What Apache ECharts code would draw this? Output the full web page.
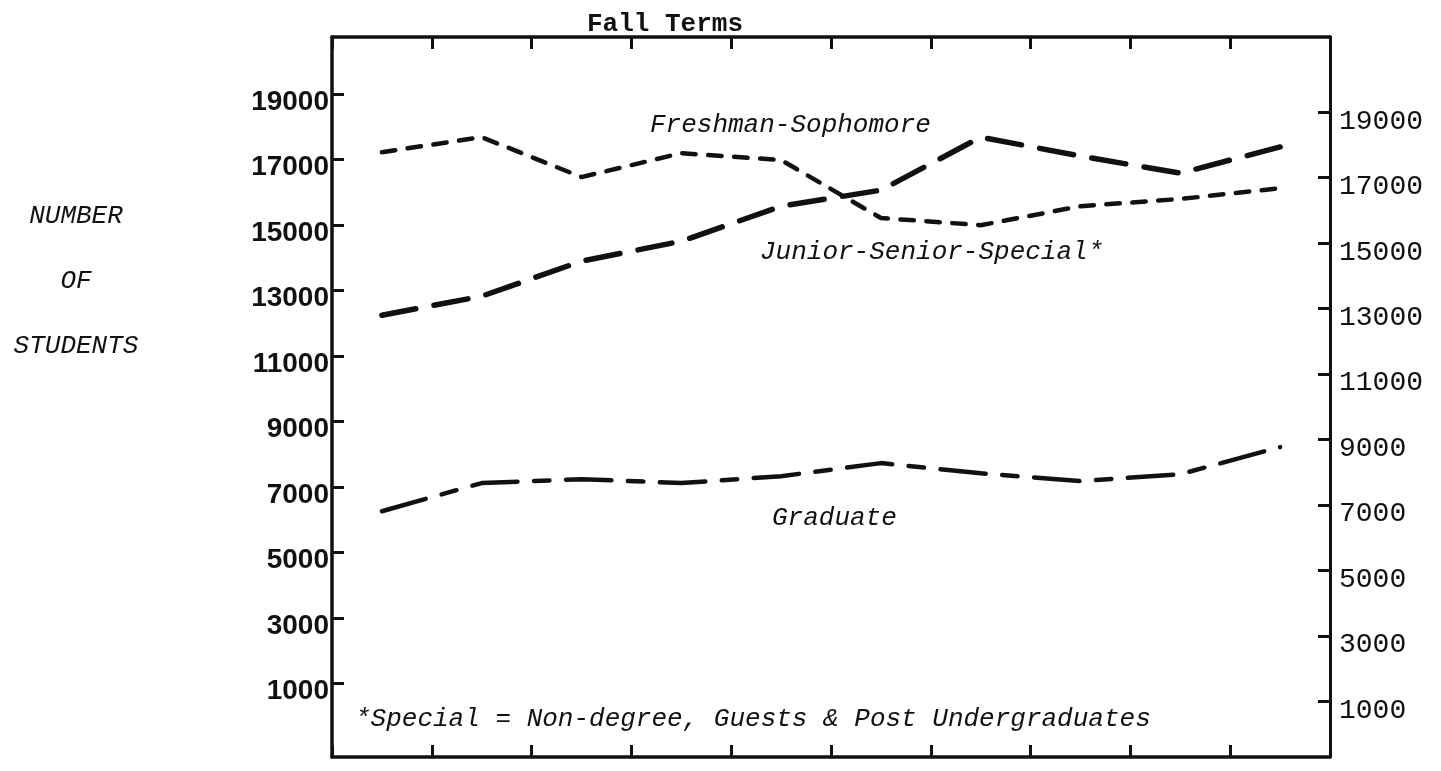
<!DOCTYPE html>
<html>
<head>
<meta charset="utf-8">
<script src="https://cdn.jsdelivr.net/npm/echarts@6/dist/echarts.min.js"></script>
<style>
    html, body { margin: 0; padding: 0; background: #fff; }
    #chart { width: 1441px; height: 771px; }
</style>
</head>
<body>
<div id="chart"></div>
<script>
// fall terms - the sheet does not print the years, so these stay hidden
const terms = ['Term 1', 'Term 2', 'Term 3', 'Term 4', 'Term 5', 'Term 6', 'Term 7', 'Term 8', 'Term 9', 'Term 10'];

// number of students
const freshmanSophomore = [17230, 17690, 16470, 17200, 16990, 15220, 15000, 15580, 15800, 16130];
const juniorSeniorSpecial = [12250, 12830, 13900, 14510, 15580, 16070, 17690, 17110, 16590, 17390];
const graduate = [6260, 7120, 7240, 7120, 7330, 7730, 7420, 7180, 7390, 8220];

// printed scale values (same on both sides)
const scaleValues = [1000, 3000, 5000, 7000, 9000, 11000, 13000, 15000, 17000, 19000];

const ink = '#111';
const typewriter = '"Liberation Mono", "DejaVu Sans Mono", monospace';
const italicType = 'italic 26px ' + typewriter;

const chart = echarts.init(document.getElementById('chart'));

const makeSerie = function (name, data, width, dash) {
    return {
        name: name,
        type: 'line',
        data: data,
        symbol: 'none',
        silent: true,
        lineStyle: {
            color: ink,
            width: width,
            type: dash,
            cap: 'round'
        }
    };
};

const frameAxis = function (position) {
    return {
        type: 'category',
        position: position,
        data: terms,
        boundaryGap: true,
        axisLine: { show: true, onZero: false, lineStyle: { color: ink, width: 3.5 } },
        axisTick: {
            show: true,
            inside: true,
            length: 12,
            interval: 0,
            alignWithLabel: false,
            lineStyle: { color: ink, width: 3 }
        },
        axisLabel: { show: false },
        splitLine: { show: false }
    };
};

const note = function (text, x, y, align) {
    return {
        type: 'text',
        x: x,
        y: y,
        silent: true,
        style: {
            text: text,
            font: italicType,
            fill: ink,
            align: align || 'left',
            verticalAlign: 'middle'
        }
    };
};

chart.setOption({
    animation: false,
    backgroundColor: '#fff',

    title: {
        text: 'Fall Terms',
        left: 582,
        top: 6,
        textStyle: {
            fontFamily: typewriter,
            fontWeight: 'bold',
            fontSize: 26,
            color: ink
        }
    },

    grid: {
        left: 332,
        right: 111,
        top: 37,
        bottom: 14,
        containLabel: false
    },

    xAxis: [frameAxis('bottom'), frameAxis('top')],

    yAxis: [{
        type: 'value',
        position: 'left',
        min: -1250,
        max: 20750,
        axisLine: { show: true, lineStyle: { color: ink, width: 3.5 } },
        axisTick: {
            show: true,
            inside: true,
            length: 12,
            customValues: scaleValues,
            lineStyle: { color: ink, width: 3 }
        },
        axisLabel: {
            customValues: scaleValues,
            formatter: function (v) { return String(v); },
            margin: 3,
            verticalAlign: 'top',
            lineHeight: 16,
            fontFamily: '"Liberation Sans", Arial, sans-serif',
            fontWeight: 'bold',
            fontSize: 28,
            color: ink
        },
        splitLine: { show: false }
    }, {
        type: 'value',
        position: 'right',
        // the scanned sheet sits a little crooked, so this side reads ~550 higher
        min: -700,
        max: 21300,
        axisLine: { show: true, lineStyle: { color: ink, width: 3 } },
        axisTick: {
            show: true,
            inside: true,
            length: 12,
            customValues: scaleValues,
            lineStyle: { color: ink, width: 3 }
        },
        axisLabel: {
            customValues: scaleValues,
            formatter: function (v) { return String(v); },
            margin: 9,
            verticalAlign: 'top',
            lineHeight: 18,
            fontFamily: typewriter,
            fontSize: 28,
            color: ink
        },
        splitLine: { show: false }
    }],

    graphic: [
        note('NUMBER', 76, 216, 'center'),
        note('OF', 76, 281, 'center'),
        note('STUDENTS', 76, 346, 'center'),
        note('Freshman-Sophomore', 650, 125),
        note('Junior-Senior-Special*', 760, 252),
        note('Graduate', 772, 518),
        note('*Special = Non-degree, Guests & Post Undergraduates', 355, 719)
    ],

    series: [
        makeSerie('Freshman-Sophomore', freshmanSophomore, 4.5, [13.5, 12.5]),
        makeSerie('Junior-Senior-Special*', juniorSeniorSpecial, 5.5, [34.5, 18.5]),
        makeSerie('Graduate', graduate, 4.5, [45.5, 16.5, 15.5, 16.5])
    ]
});
</script>
</body>
</html>
